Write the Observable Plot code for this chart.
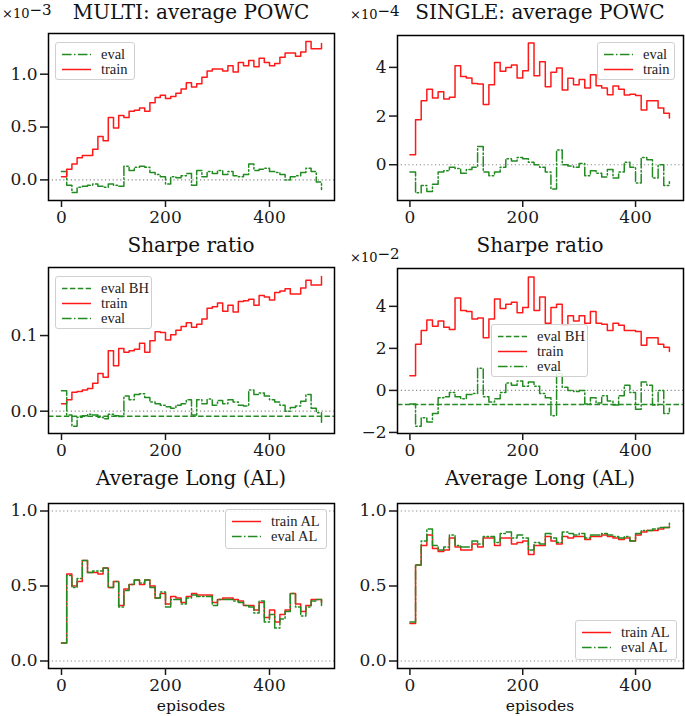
<!DOCTYPE html>
<html><head><meta charset="utf-8">
<script src="https://cdn.jsdelivr.net/npm/d3@7"></script>
<script src="https://cdn.jsdelivr.net/npm/@observablehq/plot@0.6"></script>
<style>
body{margin:0;background:#fff;}
#chart{position:relative;width:685px;height:716px;overflow:hidden;background:#fff;}
#chart svg.panel{position:absolute;overflow:visible;}
.legend{position:absolute;box-sizing:border-box;border:1px solid #d0d0d0;border-radius:3px;background:rgba(255,255,255,0.85);padding:3.5px 0 0 6px;font-family:"Liberation Serif",serif;font-size:14.5px;color:#222;}
.legend .row{display:flex;align-items:center;height:15px;line-height:15px;white-space:nowrap;}
.legend .row svg{margin-right:10px;flex:none;}
#overlay{position:absolute;left:0;top:0;pointer-events:none;}
</style></head><body><div id="chart"></div>
<script>
// ---------- data ----------
// x values: episodes
const epMulti = [0,10,20,30,40,50,60,70,80,90,100,110,120,130,140,150,160,170,180,190,200,210,220,230,240,250,260,270,280,290,300,310,320,330,340,350,360,370,380,390,400,410,420,430,440,450,460,470,480,490,500];
const epSingle = [0,10,20,30,40,50,60,70,80,90,100,110,120,130,140,150,160,170,180,190,200,210,220,230,240,250,260,270,280,290,300,310,320,330,340,350,360,370,380,390,400,410,420,430,440,450,460];

// MULTI: average POWC (x 1e-3)
const multiPowcTrain = [0.03,0.10,0.15,0.21,0.23,0.23,0.29,0.41,0.37,0.59,0.49,0.61,0.59,0.65,0.66,0.68,0.65,0.73,0.78,0.80,0.77,0.79,0.82,0.86,0.92,0.88,0.91,0.97,1.03,1.05,1.05,1.03,1.08,1.02,1.11,1.08,1.13,1.07,1.15,1.11,1.08,1.10,1.16,1.20,1.20,1.17,1.21,1.31,1.24,1.24,1.29];
const multiPowcEval = [0.08,-0.05,-0.12,-0.07,-0.06,-0.05,-0.04,-0.06,-0.07,-0.04,-0.05,-0.06,0.13,0.09,0.12,0.13,0.12,0.07,0.05,0.03,-0.04,0.03,0.02,0.04,0.06,-0.05,0.09,0.03,0.08,0.06,0.09,0.05,0.08,0.04,0.03,0.05,0.15,0.09,0.10,0.11,0.08,0.07,0.05,0.00,0.03,0.04,0.07,0.11,0.08,-0.02,-0.09];

// SINGLE: average POWC (x 1e-4)
const singlePowcTrain = [0.41,1.85,2.63,3.1,2.74,3.0,2.7,2.77,4.07,3.63,3.56,3.34,3.32,2.47,3.29,4.2,3.84,4.0,4.1,3.56,3.86,5.0,3.66,4.23,3.2,3.8,3.97,3.07,3.55,3.29,3.5,3.15,3.7,3.25,3.15,2.88,3.23,3.1,2.86,2.9,2.84,2.25,2.63,2.63,2.33,2.12,1.92];
const singlePowcEval = [-0.3,-1.15,-0.85,-1.1,-0.8,-0.3,-0.25,-0.1,-0.15,-0.35,-0.2,-0.1,0.75,-0.3,-0.45,-0.3,-0.1,0.25,0.15,0.3,0.25,0.1,0.0,-0.1,-0.3,-1.0,0.6,0.0,-0.05,-0.1,0.05,-0.45,-0.25,-0.35,-0.5,-0.2,-0.55,-0.3,0.1,-0.1,-0.75,0.3,0.2,-0.55,0.0,-0.85,-0.7];

// MULTI: Sharpe ratio
const multiSharpeTrain = [0.010,0.015,0.025,0.026,0.028,0.030,0.037,0.050,0.045,0.080,0.060,0.083,0.078,0.080,0.082,0.090,0.078,0.093,0.105,0.104,0.094,0.101,0.107,0.112,0.117,0.111,0.115,0.122,0.136,0.138,0.143,0.132,0.140,0.131,0.145,0.146,0.148,0.140,0.153,0.151,0.147,0.157,0.159,0.162,0.155,0.155,0.163,0.173,0.167,0.167,0.178];
const multiSharpeEval = [0.027,-0.005,-0.020,-0.008,-0.006,-0.004,-0.005,-0.008,-0.010,-0.004,-0.006,-0.007,0.020,0.015,0.022,0.023,0.018,0.012,0.010,0.008,0.006,0.004,0.008,0.010,0.015,-0.005,0.015,0.010,0.016,0.008,0.014,0.010,0.015,0.012,0.008,0.007,0.028,0.022,0.024,0.020,0.015,0.012,0.008,0.000,0.005,0.007,0.013,0.022,0.004,-0.002,-0.015];
const multiSharpeEvalBH = -0.0066;

// SINGLE: Sharpe ratio (x 1e-2)
const singleSharpeTrain = [0.7,2.2,2.85,3.35,3.05,3.3,3.0,2.9,4.4,3.8,3.75,3.4,3.45,2.5,3.4,4.35,3.9,4.1,4.2,3.7,3.95,5.4,3.8,4.45,3.2,3.95,4.1,3.1,3.55,3.3,3.55,3.2,3.75,3.2,3.15,2.85,3.2,3.1,2.85,2.85,2.8,2.15,2.5,2.5,2.2,2.05,1.85];
const singleSharpeEval = [-0.65,-1.7,-1.3,-1.5,-1.1,-0.35,-0.3,-0.1,-0.3,-0.4,-0.2,-0.15,1.05,-0.3,-0.55,-0.4,-0.1,0.35,0.25,0.45,0.2,0.4,0.2,-0.15,-0.35,-1.2,0.8,0.15,0.0,-0.05,0.0,-0.65,-0.35,-0.6,-0.25,-0.5,-0.7,-0.25,0.25,-0.1,-0.9,0.4,0.25,-0.7,0.0,-1.1,-0.85];
const singleSharpeEvalBH = -0.67;

// Average Long (AL)
const multiALTrain = [0.12,0.58,0.50,0.53,0.67,0.59,0.59,0.58,0.62,0.49,0.53,0.37,0.48,0.51,0.54,0.51,0.54,0.50,0.42,0.45,0.38,0.43,0.42,0.39,0.43,0.45,0.44,0.44,0.44,0.39,0.41,0.42,0.42,0.41,0.40,0.37,0.37,0.34,0.39,0.29,0.34,0.26,0.31,0.34,0.45,0.38,0.33,0.37,0.41,0.41,0.39];
const multiALEval = [0.12,0.57,0.49,0.55,0.67,0.59,0.60,0.60,0.62,0.49,0.53,0.36,0.47,0.51,0.54,0.52,0.54,0.49,0.42,0.46,0.36,0.41,0.41,0.38,0.42,0.44,0.43,0.43,0.43,0.37,0.41,0.41,0.41,0.40,0.39,0.37,0.36,0.32,0.40,0.26,0.31,0.22,0.28,0.33,0.45,0.36,0.30,0.36,0.40,0.41,0.37];
const singleALTrain = [0.25,0.64,0.77,0.84,0.75,0.73,0.74,0.82,0.76,0.74,0.74,0.78,0.76,0.82,0.82,0.77,0.82,0.82,0.78,0.79,0.80,0.71,0.77,0.77,0.83,0.80,0.78,0.83,0.82,0.83,0.83,0.81,0.83,0.83,0.84,0.83,0.82,0.81,0.82,0.80,0.84,0.86,0.87,0.87,0.88,0.89,0.90];
const singleALEval = [0.26,0.64,0.80,0.88,0.77,0.74,0.76,0.84,0.77,0.76,0.76,0.80,0.78,0.83,0.83,0.79,0.85,0.86,0.82,0.84,0.82,0.74,0.79,0.78,0.85,0.82,0.79,0.86,0.85,0.84,0.85,0.82,0.84,0.84,0.85,0.84,0.83,0.82,0.83,0.80,0.85,0.87,0.87,0.88,0.89,0.89,0.92];

// tick labels
const xTicks = [0, 200, 400];
const yTicksMultiPowc = [0, 0.5, 1.0];
const yTicksSinglePowc = [0, 2, 4];
const yTicksMultiSharpe = [0, 0.1];
const yTicksSingleSharpe = [-2, 0, 2, 4];
const yTicksAL = [0, 0.5, 1.0];

// titles
const titles = ["MULTI: average POWC", "SINGLE: average POWC", "Sharpe ratio", "Sharpe ratio", "Average Long (AL)", "Average Long (AL)"];

// ---------- styling ----------
const RED = "#ff1a1a";
const GREEN = "#228b22";
const DASHDOT = "9.6,2.4,1.5,2.4";
const DASHED = "5.5,2.4";
const DOTTED = "1.2,2.6";

const chart = document.getElementById("chart");

function rows(xs, ys) { return xs.map((x, i) => ({x, y: ys[i]})); }

function panel(cfg) {
  const mT = 10, mB = 30;
  const isLeft = cfg.col === 0;
  const mL = isLeft ? 48 : 50;
  const width = isLeft ? 336 : 338;
  const height = cfg.frameBottom - cfg.frameTop + mT + mB;
  const marks = [
    Plot.ruleY(cfg.rules, {stroke: "#8a8a8a", strokeWidth: 1.2, strokeDasharray: DOTTED}),
  ];
  if (cfg.bh != null) marks.push(Plot.ruleY([cfg.bh], {stroke: GREEN, strokeWidth: 1.5, strokeDasharray: DASHED}));
  for (const s of cfg.series) {
    marks.push(Plot.line(rows(s.xs, s.ys), {x: "x", y: "y", curve: "step-after", stroke: s.color, strokeWidth: 1.5, strokeDasharray: s.dash}));
  }
  marks.push(Plot.frame({stroke: "black", strokeWidth: 1.5}));
  marks.push(Plot.axisX({ticks: xTicks, tickSize: 7, tickPadding: 3, strokeWidth: 1.5, tickFormat: d => String(d), label: null}));
  marks.push(Plot.axisY({ticks: cfg.yTicks, tickSize: 8, tickPadding: 3, strokeWidth: 1.5, tickFormat: cfg.yFormat, label: null}));
  const svg = Plot.plot({
    width, height,
    marginLeft: mL, marginRight: 2, marginTop: mT, marginBottom: mB,
    x: {domain: cfg.xDomain, label: null},
    y: {domain: cfg.yDomain, label: null},
    style: {fontFamily: "'DejaVu Serif', serif", fontSize: "17px", color: "#1a1a1a", background: "transparent", overflow: "visible"},
    marks
  });
  svg.classList.add("panel");
  svg.style.left = (isLeft ? 0 : 347) + "px";
  svg.style.top = (cfg.frameTop - mT) + "px";
  chart.appendChild(svg);
}

const f1 = d3.format(".1f"), fi = d3.format("d");

panel({col: 0, frameTop: 33, frameBottom: 200, xDomain: [-25, 525], yDomain: [-0.195, 1.385], yTicks: yTicksMultiPowc, yFormat: f1, rules: [0],
  series: [{xs: epMulti, ys: multiPowcEval, color: GREEN, dash: DASHDOT}, {xs: epMulti, ys: multiPowcTrain, color: RED, dash: null}]});
panel({col: 1, frameTop: 35, frameBottom: 200, xDomain: [-22, 485], yDomain: [-1.47, 5.31], yTicks: yTicksSinglePowc, yFormat: fi, rules: [0],
  series: [{xs: epSingle, ys: singlePowcEval, color: GREEN, dash: DASHDOT}, {xs: epSingle, ys: singlePowcTrain, color: RED, dash: null}]});
panel({col: 0, frameTop: 267, frameBottom: 433, xDomain: [-25, 525], yDomain: [-0.0295, 0.19], yTicks: yTicksMultiSharpe, yFormat: f1, rules: [0], bh: multiSharpeEvalBH,
  series: [{xs: epMulti, ys: multiSharpeTrain, color: RED, dash: null}, {xs: epMulti, ys: multiSharpeEval, color: GREEN, dash: DASHDOT}]});
panel({col: 1, frameTop: 268, frameBottom: 433, xDomain: [-22, 485], yDomain: [-2.05, 5.8], yTicks: yTicksSingleSharpe, yFormat: fi, rules: [0], bh: singleSharpeEvalBH,
  series: [{xs: epSingle, ys: singleSharpeTrain, color: RED, dash: null}, {xs: epSingle, ys: singleSharpeEval, color: GREEN, dash: DASHDOT}]});
panel({col: 0, frameTop: 503, frameBottom: 668, xDomain: [-25, 525], yDomain: [-0.05, 1.05], yTicks: yTicksAL, yFormat: f1, rules: [0, 1],
  series: [{xs: epMulti, ys: multiALTrain, color: RED, dash: null}, {xs: epMulti, ys: multiALEval, color: GREEN, dash: DASHDOT}]});
panel({col: 1, frameTop: 503, frameBottom: 668, xDomain: [-22, 485], yDomain: [-0.05, 1.05], yTicks: yTicksAL, yFormat: f1, rules: [0, 1],
  series: [{xs: epSingle, ys: singleALTrain, color: RED, dash: null}, {xs: epSingle, ys: singleALEval, color: GREEN, dash: DASHDOT}]});

// ---------- legends ----------
function legend(left, top, w, h, items) {
  const div = document.createElement("div");
  div.className = "legend";
  Object.assign(div.style, {left: left + "px", top: top + "px", width: w + "px", height: h + "px"});
  for (const it of items) {
    const row = document.createElement("div");
    row.className = "row";
    row.innerHTML = `<svg width="29" height="15"><line x1="0" x2="29" y1="7.5" y2="7.5" stroke="${it.color}" stroke-width="1.5" ${it.dash ? `stroke-dasharray="${it.dash}"` : ""}/></svg><span>${it.label}</span>`;
    div.appendChild(row);
  }
  chart.appendChild(div);
}
const lgEval = {label: "eval", color: GREEN, dash: DASHDOT};
const lgTrain = {label: "train", color: RED, dash: null};
const lgBH = {label: "eval BH", color: GREEN, dash: DASHED};
const lgTrainAL = {label: "train AL", color: RED, dash: null};
const lgEvalAL = {label: "eval AL", color: GREEN, dash: DASHDOT};
legend(55, 42, 80, 38, [lgEval, lgTrain]);
legend(597, 42, 78, 38, [lgEval, lgTrain]);
legend(55, 276, 97, 53, [lgBH, lgTrain, lgEval]);
legend(491, 324, 97, 53, [lgBH, lgTrain, lgEval]);
legend(225, 509, 102, 40, [lgTrainAL, lgEvalAL]);
legend(575, 620, 102, 40, [lgTrainAL, lgEvalAL]);

// ---------- titles, offsets, x labels ----------
const ns = "http://www.w3.org/2000/svg";
const ov = document.createElementNS(ns, "svg");
ov.setAttribute("id", "overlay");
ov.setAttribute("width", 685); ov.setAttribute("height", 716);
chart.appendChild(ov);
function txt(x, y, s, size, anchor, family) {
  const t = document.createElementNS(ns, "text");
  t.setAttribute("x", x); t.setAttribute("y", y);
  t.setAttribute("font-size", size); t.setAttribute("text-anchor", anchor);
  t.setAttribute("style", `font-family:${family}`); t.setAttribute("fill", "#111");
  t.textContent = s;
  ov.appendChild(t);
  return t;
}
const SERIF = "'DejaVu Serif', serif";
const centers = [191, 540];
const titleY = [19, 252, 485];
titles.forEach((s, i) => txt(centers[i % 2], titleY[Math.floor(i / 2)], s, 20, "middle", SERIF));
centers.forEach(cx => txt(cx, 711, "episodes", 15.5, "middle", SERIF));
function offset(x, y, exp) {
  const t = txt(x, y, "×10", 13, "start", SERIF);
  const sp = document.createElementNS(ns, "tspan");
  sp.setAttribute("dy", -3); sp.setAttribute("font-size", 15);
  sp.textContent = exp;
  t.appendChild(sp);
}
offset(2, 18, "−3");
offset(350, 19, "−4");
offset(350, 262, "−2");
</script></body></html>
